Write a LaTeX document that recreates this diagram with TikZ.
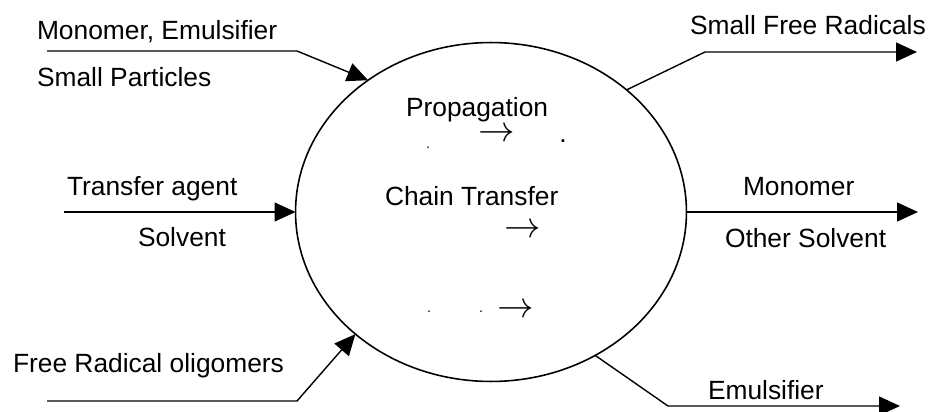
\documentclass[tikz,border=0pt]{standalone}
\usepackage{fontspec}
\setmainfont{Liberation Sans}
\usetikzlibrary{shapes.geometric,arrows.meta}

\begin{document}
\begin{tikzpicture}[x=0.02cm, y=-0.02cm, outer sep=0pt,
  >={Triangle[length=0.42cm,width=0.38cm]},
  lbl/.style={anchor=base west, inner sep=0pt, font=\fontsize{15}{18}\selectfont},
  flow/.style={->, line width=0.8pt},
  rx/.style={inner sep=0pt, text height=0.3em, text depth=0pt, font=\fontsize{21}{24}\selectfont},
  spot/.style={inner sep=0pt, font=\fontsize{8}{8}\selectfont}]

\useasboundingbox (0,0) rectangle (930,412);

\node [ellipse, draw, line width=0.9pt, minimum width=7.82cm, minimum height=6.78cm] (reactor) at (491,212) {};

% inside the reactor
\node [lbl] (prop) at (406,117) {Propagation};
\node [rx] (propArrow) at (497,139) {$\rightarrow$};
\node [spot] (propDotA) at (428,148) {.};
\node [spot, font=\fontsize{15}{18}\selectfont] (propDotB) at (563,141) {.};

\node [lbl] (chain) at (385,205) {Chain Transfer};
\node [rx] (chainArrow) at (523,235) {$\rightarrow$};

\node [spot] (lowDotA) at (429,312) {.};
\node [spot] (lowDotB) at (481,312) {.};
\node [rx] (lowArrow) at (516,315) {$\rightarrow$};

% feeds
\node [lbl] (monoIn) at (37,40) {Monomer, Emulsifier};
\node [lbl] (partIn) at (37,87) {Small Particles};
\coordinate (m0) at (47,51);
\coordinate (m1) at (297,51);
\draw [flow] (m0) -- (m1) -- (reactor.133);

\node [lbl] (agentIn) at (67,195) {Transfer agent};
\node [lbl] (solvIn) at (138,246) {Solvent};
\coordinate (t0) at (64,212);
\draw [flow] (t0) -- (reactor.west);

\node [lbl] (oligIn) at (13,372) {Free Radical oligomers};
\coordinate (f0) at (47,401);
\coordinate (f1) at (297,401);
\draw [flow] (f0) -- (f1) -- (reactor.222);

% products
\node [lbl] (radOut) at (690,35) {Small Free Radicals};
\coordinate (s1) at (705,52);
\coordinate (s2) at (917,52);
\draw [flow] (reactor.42) -- (s1) -- (s2);

\node [lbl] (monoOut) at (743,195) {Monomer};
\node [lbl] (solvOut) at (725,247) {Other Solvent};
\coordinate (o1) at (918,212);
\draw [flow] (reactor.east) -- (o1);

\node [lbl] (emulOut) at (708,399) {Emulsifier};
\coordinate (e1) at (668,406);
\coordinate (e2) at (900,406);
\draw [flow] (reactor.306) -- (e1) -- (e2);

\end{tikzpicture}
\end{document}
